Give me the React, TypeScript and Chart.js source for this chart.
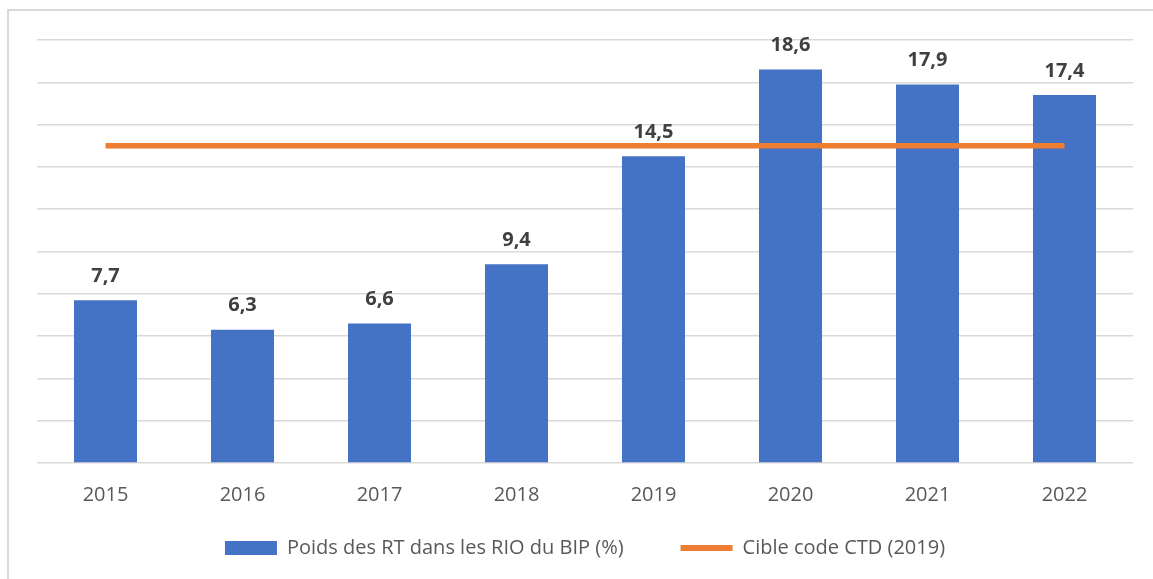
import React, { useEffect, useRef } from "react";
import { Chart, registerables } from "chart.js";

Chart.register(...registerables);

const categories = ["2015", "2016", "2017", "2018", "2019", "2020", "2021", "2022"];
const poidsRT = [7.7, 6.3, 6.6, 9.4, 14.5, 18.6, 17.9, 17.4];
const cibleCTD = [15, 15, 15, 15, 15, 15, 15, 15];
const seriesNames = ["Poids des RT dans les RIO du BIP (%)", "Cible code CTD (2019)"];
const yMin = 0;
const yMax = 20;
const yStep = 2;

const FONT = "'Open Sans', 'DejaVu Sans', sans-serif";
const BLUE = "#4472C4";
const ORANGE = "#ED7D31";

const dataLabelPlugin = {
  id: "barValueLabels",
  afterLayout(chart: any) {
    // let the x-axis labels draw below the compact axis box
    const x = chart.scales.x;
    if (x) x.bottom = x.top + 60;
  },
  afterDatasetsDraw(chart: any) {
    const meta = chart.getDatasetMeta(0);
    const ctx = chart.ctx;
    ctx.save();
    ctx.font = `bold 20px ${FONT}`;
    ctx.fillStyle = "#404040";
    ctx.textAlign = "center";
    ctx.textBaseline = "middle";
    meta.data.forEach((bar: any, i: number) => {
      const v = chart.data.datasets[0].data[i];
      const txt = v.toFixed(1).replace(".", ",");
      ctx.fillText(txt, bar.x, bar.y - 24);
    });
    ctx.restore();
  },
};

export default function App() {
  const ref = useRef<HTMLCanvasElement | null>(null);
  useEffect(() => {
    if (!ref.current) return;
    const chart = new Chart(ref.current, {
      type: "bar",
      data: {
        labels: categories,
        datasets: [
          {
            type: "bar",
            label: seriesNames[0],
            data: poidsRT,
            backgroundColor: BLUE,
            borderWidth: 0,
            categoryPercentage: 1,
            barPercentage: 0.46,
            order: 1,
          },
          {
            type: "line",
            label: seriesNames[1],
            data: cibleCTD,
            borderColor: ORANGE,
            backgroundColor: ORANGE,
            borderWidth: 5.5,
            pointRadius: 0,
            fill: false,
            order: 0,
          } as any,
        ],
      },
      options: {
        animation: false,
        responsive: false,
        maintainAspectRatio: false,
        layout: { padding: { left: 37, right: 20, top: 40, bottom: 11 } },
        plugins: {
          tooltip: { enabled: false },
          legend: {
            position: "bottom",
            labels: {
              font: { family: FONT, size: 20 },
              color: "#595959",
              usePointStyle: true,
              pointStyleWidth: 52,
              boxHeight: 14,
              padding: 57,
              generateLabels: (chart: any) => [
                {
                  text: seriesNames[0],
                  fillStyle: BLUE,
                  strokeStyle: BLUE,
                  lineWidth: 0,
                  pointStyle: "rect",
                  datasetIndex: 0,
                  fontColor: "#595959",
                },
                {
                  text: seriesNames[1],
                  fillStyle: ORANGE,
                  strokeStyle: ORANGE,
                  lineWidth: 6,
                  pointStyle: "line",
                  datasetIndex: 1,
                  fontColor: "#595959",
                },
              ],
            },
          },
        },
        scales: {
          x: {
            grid: { display: false, drawTicks: false },
            border: { display: false },
            ticks: {
              font: { family: FONT, size: 20 },
              color: "#595959",
              padding: 20,
            },
            afterFit: (s: any) => {
              s.height = 18;
            },
          },
          y: {
            min: yMin,
            max: yMax,
            ticks: { display: false, stepSize: yStep },
            grid: { color: "#d9d9d9", lineWidth: 1.5, drawTicks: false },
            border: { display: false },
          },
        },
      },
      plugins: [dataLabelPlugin],
    });
    return () => chart.destroy();
  }, []);

  return (
    <>
      <div
        style={{
          position: "fixed",
          left: 7,
          top: 9,
          width: 1146,
          height: 570,
          borderTop: "2px solid #d9d9d9",
          borderLeft: "2px solid #d9d9d9",
          boxSizing: "border-box",
        }}
      />
      <canvas
        ref={ref}
        width={1153}
        height={579}
        style={{ position: "fixed", left: 0, top: 0, width: 1153, height: 579 }}
      />
    </>
  );
}
